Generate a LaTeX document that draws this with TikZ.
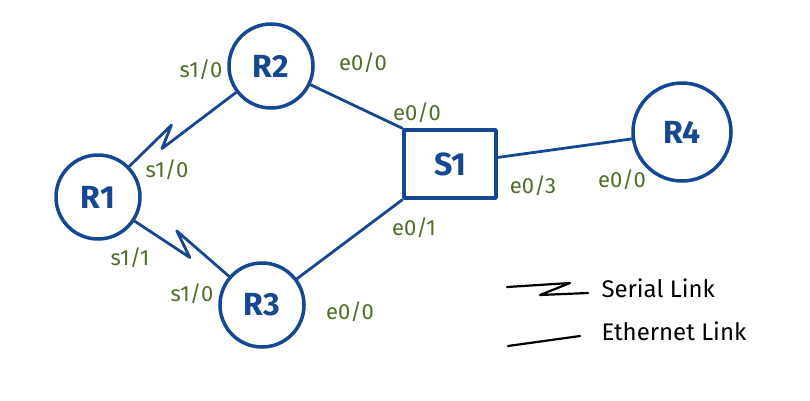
\documentclass[tikz,border=0pt]{standalone}
\usepackage{fontspec}
\setmainfont{Fira Sans}
\usetikzlibrary{calc}
\definecolor{netblue}{RGB}{22,72,145}
\definecolor{portgreen}{RGB}{80,110,40}

\begin{document}
\begin{tikzpicture}[x=1pt,y=-1pt,line cap=round,line join=round,
  router/.style={circle,draw=netblue,line width=3.5pt,text=netblue,inner sep=0pt,minimum size=84pt,font=\fontsize{32}{34}\selectfont\bfseries},
  switch/.style={rectangle,draw=netblue,line width=3.5pt,text=netblue,minimum width=92pt,minimum height=68pt,font=\fontsize{32}{34}\selectfont\bfseries},
  link/.style={draw=netblue,line width=2.8pt},
  port/.style={text=portgreen,font=\fontsize{22}{24}\selectfont},
  legline/.style={draw=black,line width=2.2pt},
  legtext/.style={anchor=west,font=\fontsize{24}{26}\selectfont}]
\useasboundingbox (0,0) rectangle (810,400);
% devices
\node[router] (r1) at (98,197) {R1};
\node[router] (r2) at (271,66) {R2};
\node[router] (r3) at (262,305) {R3};
\node[router,minimum size=98pt] (r4) at (682,132) {R4};
\node[switch] (s1) at (450,164) {S1};
% serial links
\draw[link] (r1) -- ($(r1)!0.47!(r2)!13pt!90:(r2)$) -- ($(r1)!0.37!(r2)$) -- (r2);
\draw[link] (r1) -- ($(r1)!0.56!(r3)$) -- ($(r1)!0.43!(r3)!15pt!90:(r3)$) -- (r3);
% ethernet links
\draw[link] (r2) -- (s1.north west);
\draw[link] (r3) -- (s1.south west);
\draw[link] (s1) -- (r4);
% interfaces
\node[port] (p1) at (201,70) {s1/0};
\node[port] (p2) at (363,63) {e0/0};
\node[port] (p3) at (167,170) {s1/0};
\node[port] (p4) at (417,113) {e0/0};
\node[port] (p5) at (414,228) {e0/1};
\node[port] (p6) at (533,186) {e0/3};
\node[port] (p7) at (622,180) {e0/0};
\node[port] (p8) at (130,258) {s1/1};
\node[port] (p9) at (192,294) {s1/0};
\node[port] (p10) at (350,312) {e0/0};
% legend
\coordinate (serA) at (507,287);
\coordinate (serB) at (588,293);
\node[legtext] (serlbl) at (598,288) {Serial Link};
\draw[legline] (serA) -- (570,283) -- (540,295) -- (serB);
\coordinate (ethA) at (508,346);
\coordinate (ethB) at (580,336);
\node[legtext] (ethlbl) at (598,331) {Ethernet Link};
\draw[legline] (ethA) -- (ethB);
\end{tikzpicture}
\end{document}
